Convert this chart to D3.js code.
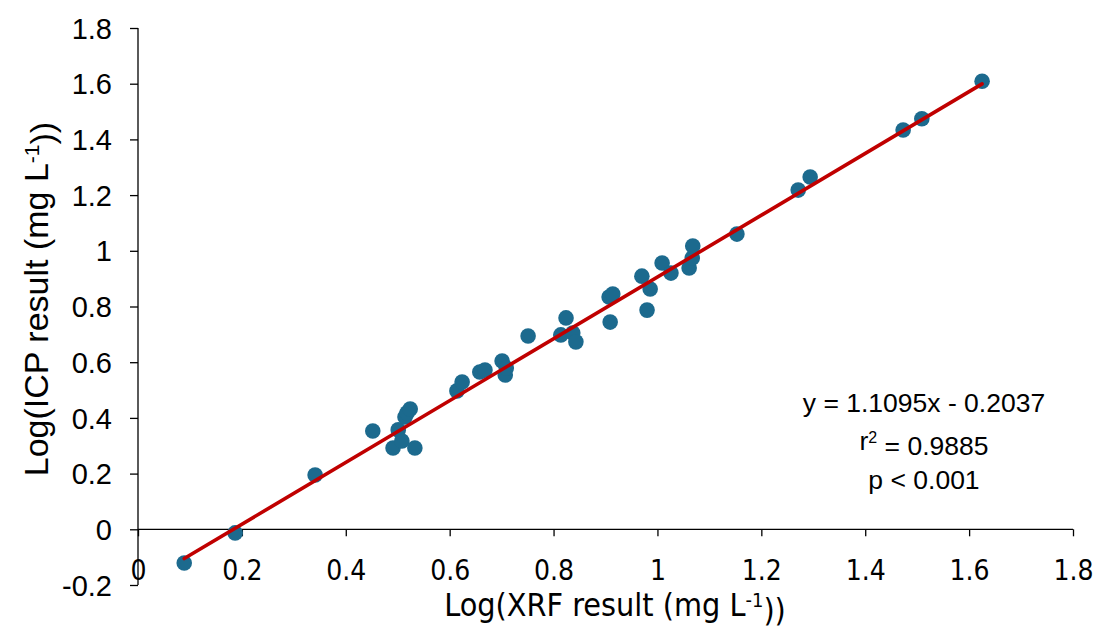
<!DOCTYPE html>
<html>
<head>
<meta charset="utf-8">
<script src="https://cdn.jsdelivr.net/npm/d3@7"></script>
<style>
  html, body { margin: 0; padding: 0; background: #fff; }
  svg { display: block; }
  .ytick { font-family: "Liberation Sans", Arial, sans-serif; font-size: 29px; fill: #000; }
  .xtick { font-family: "Liberation Sans Narrow", "DejaVu Sans Condensed", "Liberation Sans", sans-serif; font-stretch: condensed; font-size: 28px; fill: #000; }
  .ytitle { font-family: "Liberation Sans", Arial, sans-serif; font-size: 34px; fill: #000; }
  .xtitle { font-family: "Liberation Sans Narrow", "DejaVu Sans Condensed", "Liberation Sans", sans-serif; font-stretch: condensed; font-size: 32px; fill: #000; }
  .note { font-family: "Liberation Sans", Arial, sans-serif; font-size: 26.5px; fill: #000; }
</style>
</head>
<body>
<script>
// Data (log XRF vs log ICP)
const xrf = [0.089, 0.187, 0.341, 0.452, 0.491, 0.501, 0.508, 0.514, 0.518, 0.524, 0.533,
             0.614, 0.624, 0.658, 0.668, 0.701, 0.707, 0.709, 0.751, 0.814, 0.824, 0.837, 0.843,
             0.909, 0.907, 0.914, 0.970, 0.980, 0.986, 1.009, 1.026, 1.061, 1.067, 1.068,
             1.153, 1.271, 1.294, 1.473, 1.509, 1.625];
const icp = [-0.121, -0.013, 0.195, 0.353, 0.292, 0.357, 0.317, 0.403, 0.418, 0.432, 0.292,
             0.497, 0.529, 0.565, 0.572, 0.604, 0.554, 0.579, 0.694, 0.698, 0.759, 0.705, 0.673,
             0.744, 0.834, 0.845, 0.909, 0.787, 0.863, 0.956, 0.920, 0.938, 0.974, 1.017,
             1.060, 1.218, 1.265, 1.434, 1.474, 1.609];
const fitSlope = 1.1095;
const fitIntercept = -0.2037;
const xTicks = [0, 0.2, 0.4, 0.6, 0.8, 1, 1.2, 1.4, 1.6, 1.8];
const yTicks = [-0.2, 0, 0.2, 0.4, 0.6, 0.8, 1, 1.2, 1.4, 1.6, 1.8];
const noteLines = ["y = 1.1095x - 0.2037", "r2 = 0.9885", "p < 0.001"];

const W = 1096, H = 628;
const svg = d3.select("body").append("svg").attr("width", W).attr("height", H);

const x = d3.scaleLinear().domain([0, 1.8]).range([138, 1073]);
const y = d3.scaleLinear().domain([-0.2, 1.8]).range([585, 28]);
const fmt = d => String(+d.toFixed(1));

// Y axis
const yAxis = svg.append("g").attr("transform", `translate(${x(0)},0)`)
  .call(d3.axisLeft(y).tickValues(yTicks).tickSize(8).tickPadding(18).tickFormat(fmt));
yAxis.attr("font-size", null).attr("font-family", null);
yAxis.select(".domain").attr("stroke", "#000").attr("stroke-width", 1.3).attr("d", `M0,${y(1.8)}V${y(-0.2)}`);
yAxis.selectAll(".tick line").attr("stroke", "#000").attr("stroke-width", 1.3);
yAxis.selectAll(".tick text").attr("class", "ytick").attr("dy", "0.35em");

// X axis at y = 0
const xAxis = svg.append("g").attr("transform", `translate(0,${y(0)})`)
  .call(d3.axisBottom(x).tickValues(xTicks).tickSize(7).tickPadding(34).tickFormat(fmt));
xAxis.attr("font-size", null).attr("font-family", null);
xAxis.select(".domain").attr("stroke", "#000").attr("stroke-width", 1.3).attr("d", `M${x(0)},0H${x(1.8)}`);
xAxis.selectAll(".tick line").attr("stroke", "#000").attr("stroke-width", 1.3);
xAxis.selectAll(".tick text").attr("class", "xtick").attr("dy", "0.35em");

// Points
const pts = xrf.map((v, i) => ({x: v, y: icp[i]}));
svg.append("g").selectAll("circle").data(pts).enter().append("circle")
  .attr("cx", d => x(d.x)).attr("cy", d => y(d.y)).attr("r", 7.8)
  .attr("fill", "#1c6a8e");

// Trend line
const xMin = d3.min(xrf), xMax = d3.max(xrf);
svg.append("line")
  .attr("x1", x(xMin)).attr("y1", y(fitSlope * xMin + fitIntercept))
  .attr("x2", x(xMax)).attr("y2", y(fitSlope * xMax + fitIntercept))
  .attr("stroke", "#c00000").attr("stroke-width", 3.6).attr("stroke-linecap", "round");

// Axis titles
const yt = svg.append("text").attr("class", "ytitle").attr("text-anchor", "middle")
  .attr("transform", `translate(48,299) rotate(-90)`);
yt.append("tspan").text("Log(ICP result (mg L");
yt.append("tspan").attr("dy", "-0.45em").attr("font-size", "21px").text("-1");
yt.append("tspan").attr("dy", "0.45em").text("))");

const xt = svg.append("text").attr("class", "xtitle").attr("text-anchor", "middle")
  .attr("x", 615).attr("y", 616);
xt.append("tspan").text("Log(XRF result (mg L");
xt.append("tspan").attr("dy", "-0.45em").attr("font-size", "20px").text("-1");
xt.append("tspan").attr("dy", "0.45em").text("))");

// Annotation
const nx = 924;
svg.append("text").attr("class", "note").attr("text-anchor", "middle").attr("x", nx).attr("y", 412).text(noteLines[0]);
const r2 = svg.append("text").attr("class", "note").attr("text-anchor", "middle").attr("x", nx).attr("y", 450);
r2.append("tspan").text("r");
r2.append("tspan").attr("dy", "-0.45em").attr("font-size", "16px").text("2");
r2.append("tspan").attr("dy", "0.45em").text(" = 0.9885");
svg.append("text").attr("class", "note").attr("text-anchor", "middle").attr("x", nx).attr("y", 489).text(noteLines[2]);
</script>
</body>
</html>
